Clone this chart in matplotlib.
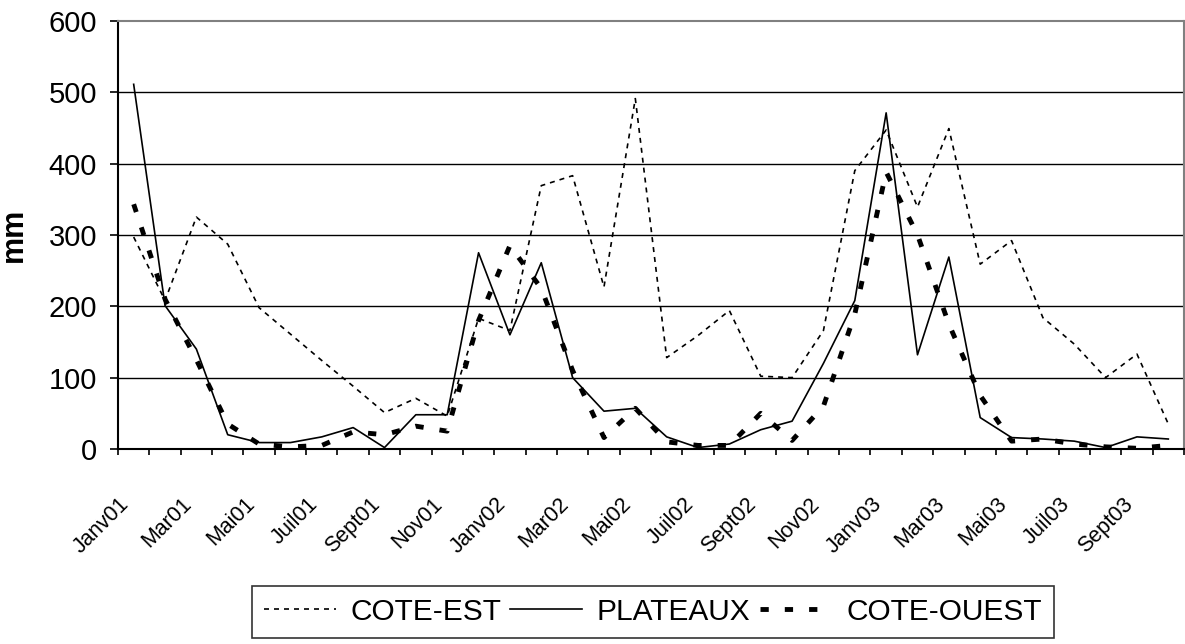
import numpy as np
import matplotlib
matplotlib.use("Agg")
import matplotlib.pyplot as plt

plt.rcParams["font.family"] = ["Liberation Sans", "DejaVu Sans"]

# monthly rainfall (mm), Jan 2001 -> Oct 2003
mois = ["Janv01", "Fev01", "Mar01", "Avr01", "Mai01", "Juin01", "Juil01", "Aout01", "Sept01", "Oct01", "Nov01", "Dec01",
        "Janv02", "Fev02", "Mar02", "Avr02", "Mai02", "Juin02", "Juil02", "Aout02", "Sept02", "Oct02", "Nov02", "Dec02",
        "Janv03", "Fev03", "Mar03", "Avr03", "Mai03", "Juin03", "Juil03", "Aout03", "Sept03", "Oct03"]
cote_est = [297, 208, 325, 287, 198, 161, 124, 88, 51, 71, 46, 183,
            166, 369, 383, 227, 491, 128, 159, 194, 102, 100, 166, 390,
            447, 339, 449, 259, 292, 184, 147, 100, 133, 35]
plateaux = [511, 201, 140, 20, 9, 9, 17, 30, 2, 48, 48, 275,
            160, 261, 100, 53, 57, 17, 2, 7, 27, 39, 120, 208,
            471, 132, 269, 44, 16, 14, 11, 2, 17, 14]
cote_ouest = [343, 210, 125, 35, 7, 3, 5, 24, 20, 32, 25, 180,
              285, 225, 110, 16, 57, 10, 5, 5, 50, 12, 60, 189,
              388, 300, 175, 75, 11, 14, 7, 3, 1, 5]

x = np.arange(len(mois))

fig = plt.figure(figsize=(11.85, 6.44), dpi=100)
ax = fig.add_axes([118 / 1185, 1 - 449 / 644, 1066 / 1185, 428.2 / 644])

# horizontal grid (top one is the grey frame)
for v in range(100, 600, 100):
    ax.axhline(v, color="black", lw=1.0, zorder=1)

ax.plot(x, cote_est, color="black", lw=1.2, dashes=(3, 3), label="COTE-EST", zorder=3)
ax.plot(x, plateaux, color="black", lw=1.2, label="PLATEAUX", zorder=3)
ax.plot(x, cote_ouest, color="black", lw=3.5, dashes=(1.7, 3.3), dash_capstyle="butt",
        label="COTE-OUEST", zorder=3)

ax.set_xlim(-0.5, len(mois) - 0.5)
ax.set_ylim(0, 600)
ax.set_yticks(range(0, 601, 100))
ax.tick_params(axis="y", labelsize=21, length=6, width=1.2, direction="out", pad=9)

ax.set_xticks(x[::2])
ax.set_xticklabels(mois[::2], rotation=45, ha="right", va="top", fontsize=15.5)
ax.set_xticks(np.arange(-0.5, len(mois), 1), minor=True)
ax.tick_params(axis="x", which="major", length=0, pad=32)
ax.tick_params(axis="x", which="minor", length=4.5, width=1.2, direction="out")

ax.set_ylabel("mm", fontsize=22, fontweight="bold")
ax.yaxis.set_label_coords(-0.084, 0.5)

for s in ["left", "bottom"]:
    ax.spines[s].set_color("black")
    ax.spines[s].set_linewidth(1.5)
for s in ["top", "right"]:
    ax.spines[s].set_color("#808080")
    ax.spines[s].set_linewidth(1.5)

leg = fig.legend(loc="upper left", bbox_to_anchor=(252 / 1185, 1 - 586 / 644), ncol=3,
                 fontsize=21.5, frameon=True, fancybox=False, edgecolor="black",
                 handlelength=2.4, handletextpad=0.5, columnspacing=0.3, borderpad=0.4,
                 borderaxespad=0)
leg.get_frame().set_linewidth(1.2)

fig.savefig("out.png", dpi=100)
